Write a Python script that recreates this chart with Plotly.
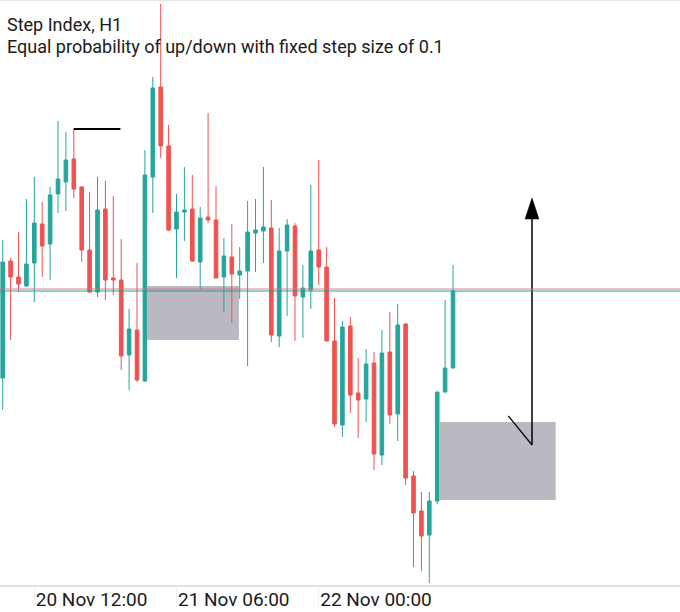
import pandas as pd
import plotly.graph_objects as go

# ---------------- data ----------------
start_time = "2024-11-20 08:00"
n_bars = 58
times = pd.date_range(start_time, periods=n_bars, freq="h")

opens = [7922.2, 7933.9, 7932.3, 7931.4, 7933.7, 7937.6, 7935.6, 7940.6, 7941.8, 7944.1,
         7941.3, 7935.0, 7930.8, 7939.1, 7932.2, 7932.0, 7924.5, 7927.0, 7921.9, 7942.3,
         7951.3, 7945.4, 7937.1, 7938.8, 7939.1, 7933.8, 7938.3, 7938.0, 7932.3, 7934.3,
         7932.5, 7932.9, 7936.7, 7936.9, 7937.2, 7926.4, 7934.9, 7937.4, 7930.3, 7931.0,
         7935.0, 7933.3, 7925.9, 7917.5, 7927.4, 7920.7, 7920.1, 7923.7, 7914.5, 7924.8,
         7918.6, 7927.6, 7912.4, 7908.9, 7906.5, 7909.9, 7920.8, 7923.2]
highs = [7936.0, 7934.2, 7936.8, 7940.1, 7942.3, 7939.8, 7941.3, 7947.9, 7946.8, 7947.1,
         7941.4, 7940.8, 7942.3, 7941.9, 7940.4, 7936.1, 7929.1, 7933.7, 7945.0, 7952.3,
         7959.6, 7947.5, 7940.6, 7943.3, 7942.5, 7939.3, 7948.7, 7941.4, 7936.2, 7937.6,
         7935.3, 7939.9, 7940.1, 7943.3, 7940.0, 7937.2, 7938.1, 7937.7, 7933.5, 7941.5,
         7944.0, 7935.3, 7930.2, 7927.9, 7928.3, 7924.2, 7925.1, 7924.8, 7927.0, 7928.8,
         7929.6, 7927.7, 7912.9, 7910.8, 7910.8, 7920.8, 7930.0, 7933.5]
lows = [7919.0, 7926.0, 7930.8, 7931.3, 7929.8, 7932.3, 7932.0, 7938.7, 7938.9, 7940.2,
        7933.8, 7930.7, 7930.3, 7930.0, 7930.5, 7923.0, 7921.0, 7921.8, 7921.8, 7938.7,
        7944.2, 7936.9, 7932.2, 7935.9, 7933.8, 7931.0, 7937.7, 7932.2, 7928.8, 7927.7,
        7930.1, 7923.4, 7932.8, 7933.7, 7925.8, 7925.3, 7928.4, 7925.9, 7926.2, 7929.1,
        7931.5, 7925.9, 7917.3, 7916.3, 7918.7, 7916.2, 7917.8, 7913.0, 7913.5, 7917.6,
        7915.9, 7911.5, 7903.3, 7902.9, 7901.7, 7909.6, 7920.7, 7923.2]
closes = [7933.8, 7932.3, 7931.6, 7933.6, 7937.7, 7935.4, 7940.5, 7942.1, 7944.0, 7941.1,
          7935.0, 7930.8, 7939.0, 7932.0, 7932.0, 7924.4, 7927.1, 7922.0, 7942.5, 7951.2,
          7945.4, 7937.0, 7938.8, 7939.0, 7933.9, 7938.2, 7938.0, 7932.2, 7934.4, 7932.6,
          7932.9, 7936.8, 7937.0, 7937.3, 7926.5, 7934.9, 7937.5, 7930.4, 7931.2, 7934.9,
          7933.3, 7925.9, 7917.6, 7927.3, 7920.5, 7920.0, 7923.6, 7914.6, 7924.7, 7918.5,
          7927.5, 7912.2, 7908.7, 7906.4, 7909.9, 7920.8, 7923.2, 7930.9]

bid_price = 7930.9
ask_price = 7931.1

# drawn objects (time, price)
zones = [
    ("2024-11-21 02:18", "2024-11-21 13:54", 7931.4, 7926.0),
    ("2024-11-22 15:21", "2024-11-23 06:00", 7917.8, 7910.0),
]
hline_obj = ("2024-11-20 17:00", "2024-11-20 22:54", 7947.1)
arrow_x = "2024-11-23 03:00"
arrow_y = [7915.5, 7938.3]
arrow_head_x = ["2024-11-23 02:07", "2024-11-23 03:00", "2024-11-23 03:53", "2024-11-23 02:07"]
arrow_head_y = [7938.1, 7940.2, 7938.1, 7938.1]
diag_x = ["2024-11-23 00:00", "2024-11-23 03:00"]
diag_y = [7918.4, 7915.5]

title_lines = ["Step Index, H1", "Equal probability of up/down with fixed step size of 0.1"]

tick_times = ["2024-11-20 12:00", "2024-11-21 06:00", "2024-11-22 00:00"]
tick_labels = ["20 Nov 12:00", "21 Nov 06:00", "22 Nov 00:00"]

x_range = ["2024-11-20 07:39:30", "2024-11-23 21:44"]
y_range = [7901.5, 7959.9]

UP = "#26a69a"
DOWN = "#ef5350"
FONT = "Roboto"

# ---------------- figure ----------------
fig = go.Figure()
fig.add_trace(go.Candlestick(
    x=times, open=opens, high=highs, low=lows, close=closes,
    increasing=dict(line=dict(color=UP, width=1), fillcolor=UP),
    decreasing=dict(line=dict(color=DOWN, width=1), fillcolor=DOWN),
    whiskerwidth=0, hoverinfo="skip", showlegend=False,
))

fig.add_trace(go.Scatter(x=[arrow_x, arrow_x], y=arrow_y, mode="lines",
                         line=dict(color="black", width=1.5), hoverinfo="skip", showlegend=False))
fig.add_trace(go.Scatter(x=arrow_head_x, y=arrow_head_y, mode="lines", fill="toself",
                         fillcolor="black", line=dict(color="black", width=0.5),
                         hoverinfo="skip", showlegend=False))
fig.add_trace(go.Scatter(x=diag_x, y=diag_y, mode="lines",
                         line=dict(color="black", width=1.2), hoverinfo="skip", showlegend=False))

shapes = []
for x0, x1, y0, y1 in zones:
    shapes.append(dict(type="rect", xref="x", yref="y", x0=x0, x1=x1, y0=y0, y1=y1,
                       fillcolor="rgb(186,185,193)", line=dict(width=0), layer="below"))
shapes.append(dict(type="line", xref="x", yref="y", x0=hline_obj[0], x1=hline_obj[1],
                   y0=hline_obj[2], y1=hline_obj[2], line=dict(color="black", width=2)))
shapes.append(dict(type="line", xref="paper", yref="y", x0=0, x1=1, y0=ask_price, y1=ask_price,
                   line=dict(color="rgba(215,110,110,0.85)", width=1)))
shapes.append(dict(type="line", xref="paper", yref="y", x0=0, x1=1, y0=bid_price, y1=bid_price,
                   line=dict(color="rgba(38,150,150,0.95)", width=1)))

H = 612
top_m, bot_m = 1, 27
plot_h = H - top_m - bot_m

def py_to_paper(py):
    return 1 - (py - top_m) / plot_h

annotations = [
    dict(text=title_lines[0], xref="paper", yref="paper", x=0, y=py_to_paper(24.5),
         xanchor="left", yanchor="middle", xshift=5, showarrow=False,
         font=dict(family=FONT, size=18, color="#1a1a1a")),
    dict(text=title_lines[1], xref="paper", yref="paper", x=0, y=py_to_paper(47),
         xanchor="left", yanchor="middle", xshift=5, showarrow=False,
         font=dict(family=FONT, size=18, color="#1a1a1a")),
]

fig.update_layout(
    width=680, height=H,
    margin=dict(l=0, r=0, t=top_m, b=bot_m, autoexpand=False),
    paper_bgcolor="white", plot_bgcolor="white",
    shapes=shapes, annotations=annotations,
    boxgap=0.35,
    showlegend=False,
    hovermode=False,
    xaxis=dict(
        type="date", range=x_range, rangeslider=dict(visible=False),
        showgrid=False, zeroline=False,
        showline=True, linecolor="#e3e3e3", linewidth=2, mirror=True,
        tickmode="array", tickvals=tick_times, ticktext=tick_labels,
        ticks="outside", ticklen=20, tickcolor="#f0f0f0", tickwidth=1,
        ticklabelposition="outside right", ticklabelstandoff=-4,
        tickfont=dict(family=FONT, size=19, color="#1a1a1a"),
    ),
    yaxis=dict(visible=False, range=y_range, showgrid=False, zeroline=False, fixedrange=True),
)

fig.write_html(
    "out.html",
    config={"displayModeBar": False},
    post_script="document.body.style.margin='0';document.body.style.overflow='hidden';",
)
